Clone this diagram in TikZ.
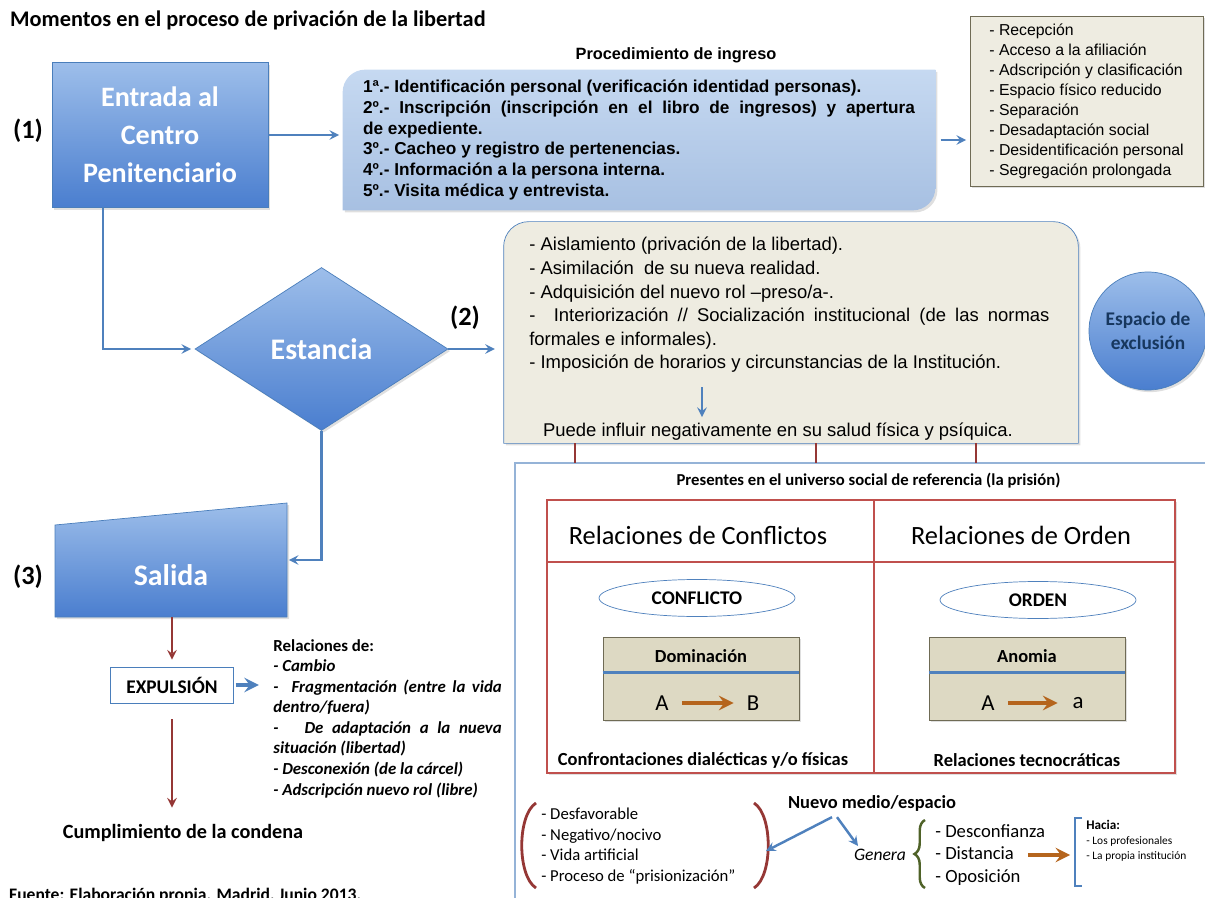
\documentclass[tikz,border=0pt]{standalone}
\usepackage{fontspec}
\setmainfont{Carlito}
\newfontfamily\arialfont{Liberation Sans}
\usetikzlibrary{shapes.geometric,shadows,decorations.pathreplacing}
\tikzset{>=stealth}
\definecolor{azulclaro}{HTML}{9DBEEA}
\definecolor{azuloscuro}{HTML}{4A7ECF}
\definecolor{azulborde}{HTML}{4A7EBB}
\definecolor{azulflecha}{HTML}{4F81BD}
\definecolor{azulmarco}{HTML}{95B3D7}
\definecolor{celeste}{HTML}{C6D9F1}
\definecolor{celeste2}{HTML}{A7C0E2}
\definecolor{beige}{HTML}{EEECE1}
\definecolor{beigeosc}{HTML}{DDD9C3}
\definecolor{oliva}{HTML}{6F6B55}
\definecolor{rojooscuro}{HTML}{953735}
\definecolor{rojotabla}{HTML}{C0504D}
\definecolor{marron}{HTML}{B5651D}
\definecolor{verde}{HTML}{4F6228}
\definecolor{azulnoche}{HTML}{17375E}
\newcommand{\tam}[2]{\fontsize{#1}{#2}\selectfont}

\begin{document}
\begin{tikzpicture}[
    sombra/.style={drop shadow={opacity=0.25, shadow xshift=1.2pt, shadow yshift=-1.2pt}},
    forma/.style={top color=azulclaro, bottom color=azuloscuro, draw=azulborde, sombra},
    etiqueta/.style={font=\tam{15}{18}\bfseries},
    flecha/.style={->, draw=azulflecha, line width=1.4pt},
    flecharoja/.style={->, draw=rojooscuro, line width=1.4pt},
    flechamarron/.style={->, draw=marron, line width=2.6pt},
    tabla/.style={draw=rojotabla, line width=1pt},
    elipse/.style={ellipse, draw=azulflecha, fill=white, minimum width=3.92cm, minimum height=0.74cm, inner sep=0, font=\tam{11}{13}\bfseries},
    cajita/.style={draw=oliva, fill=beigeosc, minimum width=3.92cm, minimum height=1.66cm, inner sep=0, sombra},
    lineaazul/.style={draw=azulflecha, line width=1.8pt},
    tic/.style={draw=rojooscuro, line width=1.4pt}
]
    \useasboundingbox (0,0) rectangle (24.1,-17.96);
    \node[anchor=west, font=\tam{12.7}{15}\bfseries] (titulo) at (0.08,-0.4) {Momentos en el proceso de privación de la libertad};

    \node[forma, minimum width=4.32cm, minimum height=2.9cm, align=center, text=white, font=\tam{16}{21.5}\bfseries] (entrada) at (3.2,-2.7) {Entrada al\\Centro\\Penitenciario};
    \node[etiqueta] (uno) at (0.56,-2.62) {(1)};

    \node[font=\arialfont\tam{9.3}{11}\bfseries] (titingreso) at (13.52,-1.1) {Procedimiento de ingreso};
    \node[minimum width=11.84cm, minimum height=2.8cm, inner sep=0] (ingreso) at (12.78,-2.8) {};
    \path[top color=celeste, bottom color=celeste2, sombra] (ingreso.south west) -- ([yshift=-0.45cm]ingreso.north west) arc[start angle=180, end angle=90, radius=0.45cm] -- (ingreso.north east) -- ([yshift=0.45cm]ingreso.south east) arc[start angle=0, end angle=-90, radius=0.45cm] -- cycle;
    \node[text width=314pt, align=justify, font=\arialfont\tam{9.8}{11.9}\bfseries] (ingresotxt) at (ingreso.center) {1ª.- Identificación personal (verificación identidad personas).\\
        2º.- Inscripción (inscripción en el libro de ingresos) y apertura\linebreak de expediente.\\
        3º.- Cacheo y registro de pertenencias.\\
        4º.- Información a la persona interna.\\
        5º.- Visita médica y entrevista.};

    \node[draw=oliva, fill=beige, sombra, minimum width=4.66cm, minimum height=3.4cm, align=left, font=\arialfont\tam{9}{11.4}] (lista) at (21.73,-2.02) {- Recepción\\- Acceso a la afiliación\\- Adscripción y clasificación\\- Espacio físico reducido\\- Separación\\- Desadaptación social\\- Desidentificación personal\\- Segregación prolongada};

    \draw[flecha, shorten >=2pt] (entrada.east) -- (entrada.east -| ingreso.west);
    \draw[flecha, shorten <=3pt, shorten >=2pt] (ingreso.east) -- (ingreso.east -| lista.west);

    \node[forma, diamond, minimum width=5.06cm, minimum height=3.26cm, inner sep=0, text=white, font=\tam{17}{20}\bfseries] (estancia) at (6.43,-6.98) {Estancia};
    \draw[flecha, shorten >=2pt] ([xshift=-1.14cm]entrada.south) |- (estancia.west);

    \node[minimum width=11.48cm, minimum height=4.42cm, inner sep=0] (aisla) at (15.82,-6.65) {};
    \path[draw=azulflecha, fill=beige, sombra] (aisla.south west) -- ([yshift=-0.5cm]aisla.north west) arc[start angle=180, end angle=90, radius=0.5cm] -- ([xshift=-0.5cm]aisla.north east) arc[start angle=90, end angle=0, radius=0.5cm] -- (aisla.south east) -- cycle;
    \node[anchor=north west, inner sep=0, text width=296pt, align=justify, font=\arialfont\tam{10.5}{13.4}] (aislatxt) at (10.58,-4.74) {- Aislamiento (privación de la libertad).\\
        - Asimilación \ de su nueva realidad.\\
        - Adquisición del nuevo rol –preso/a-.\\
        - \ Interiorización // Socialización institucional (de las normas\linebreak formales e informales).\\
        - Imposición de horarios y circunstancias de la Institución.};
    \node[font=\arialfont\tam{10.5}{12}] (influir) at (15.56,-8.64) {Puede influir negativamente en su salud física y psíquica.};
    \coordinate (inicioflecha) at (14.04,-7.74);
    \draw[flecha] (inicioflecha) -- (inicioflecha |- influir.north);

    \draw[flecha, shorten >=5pt] (estancia.east) -- (estancia.east -| aisla.west);
    \node[etiqueta] (dos) at (9.3,-6.36) {(2)};

    \node[circle, forma, minimum size=2.36cm, inner sep=0, align=center, text=azulnoche, font=\tam{11}{13.5}\bfseries] (exclusion) at (22.96,-6.62) {Espacio de\\exclusión};

    \path[forma] (1.1,-10.5) -- (5.74,-10.06) -- (5.74,-12.34) -- (1.1,-12.34) -- cycle;
    \node[text=white, font=\tam{17}{20}\bfseries] (salida) at (3.42,-11.5) {Salida};
    \node[etiqueta] (tres) at (0.56,-11.54) {(3)};
    \coordinate (salidae) at (5.74,-11.2);
    \coordinate (salidas) at (3.44,-12.34);
    \draw[flecha, shorten >=1pt] (estancia.south) |- (salidae);

    \node[draw=azulborde, fill=white, minimum width=2.46cm, minimum height=0.72cm, inner sep=0, font=\tam{11}{13}\bfseries] (expulsion) at (3.44,-13.7) {EXPULSIÓN};
    \node[font=\tam{11.5}{14}\bfseries] (cumple) at (3.66,-16.66) {Cumplimiento de la condena};
    \node[anchor=north west, inner sep=0, text width=130pt, align=justify, font=\tam{9.6}{11.7}\bfseries] (relaciones) at (5.46,-12.78) {Relaciones de:\\
        \itshape - Cambio\\
        - \ Fragmentación (entre la vida\linebreak dentro/fuera)\\
        - \ \ De adaptación a la nueva\linebreak situación (libertad)\\
        - Desconexión (de la cárcel)\\
        - Adscripción nuevo rol (libre)};
    \draw[flecharoja, shorten >=4pt] (salidas) -- (expulsion.north);
    \draw[flecharoja, shorten <=9pt, shorten >=6pt] (expulsion.south) -- (expulsion.south |- cumple.north);
    \draw[flecha, line width=2.6pt, shorten <=1pt, shorten >=8pt] (expulsion.east) -- (expulsion.east -| relaciones.west);

    \coordinate (marco) at (10.3,-9.26);
    \draw[draw=azulmarco, line width=0.8pt] (10.3,-18.5) -- (marco) -- (24.6,-9.26);
    \foreach \x in {11.5,16.32,19.52}
        \draw[tic] (\x,0 |- aisla.south) -- (\x,0 |- marco);

    \node[font=\tam{9.5}{11}\bfseries] (presentes) at (17.37,-9.62) {Presentes en el universo social de referencia (la prisión)};
    \draw[tabla, fill=white, sombra] (10.94,-10.0) rectangle (23.5,-15.46);
    \draw[tabla, line width=1.4pt] (10.94,-11.24) -- (23.5,-11.24);
    \draw[tabla] (17.48,-10.0) -- (17.48,-15.46);
    \node[font=\tam{15}{18}] (conflictos) at (13.96,-10.7) {Relaciones de Conflictos};
    \node[font=\tam{15}{18}] (orden) at (20.42,-10.7) {Relaciones de Orden};

    \node[elipse] (conflicto) at (13.94,-11.96) {CONFLICTO};
    \node[elipse] (ordenel) at (20.76,-12.0) {ORDEN};

    \node[cajita] (dombox) at (14.02,-13.57) {};
    \node[font=\tam{10.5}{12}\bfseries] (dom) at ([yshift=-0.38cm]dombox.north) {Dominación};
    \draw[lineaazul] ([yshift=-0.72cm]dombox.north west) -- ([yshift=-0.72cm]dombox.north east);
    \node[font=\tam{13}{15}] (domA) at (13.24,-14.06) {A};
    \node[font=\tam{13}{15}] (domB) at (15.06,-14.06) {B};
    \draw[flechamarron, shorten <=4pt, shorten >=4pt] (domA) -- (domB);

    \node[cajita] (anobox) at (20.54,-13.57) {};
    \node[font=\tam{10.5}{12}\bfseries] (ano) at ([yshift=-0.38cm]anobox.north) {Anomia};
    \draw[lineaazul] ([yshift=-0.72cm]anobox.north west) -- ([yshift=-0.72cm]anobox.north east);
    \node[font=\tam{13}{15}] (anoA) at (19.76,-14.06) {A};
    \node[font=\tam{13}{15}] (anoa) at (21.56,-14.06) {a};
    \draw[flechamarron, shorten <=4pt, shorten >=5pt] (anoA) -- (anoa);

    \node[font=\tam{10.5}{12}\bfseries] (confront) at (14.06,-15.2) {Confrontaciones dialécticas y/o físicas};
    \node[font=\tam{10.5}{12}\bfseries] (tecno) at (20.54,-15.2) {Relaciones tecnocráticas};

    \node[font=\tam{10.5}{12}\bfseries] (nuevo) at (17.44,-16.06) {Nuevo medio/espacio};
    \node[anchor=west, align=left, inner sep=0, font=\tam{9.5}{11.7}] (desv) at (10.82,-16.92) {- Desfavorable\\- Negativo/nocivo\\- Vida artificial\\- Proceso de “prisionización”};
    \draw[draw=rojooscuro, line width=1.6pt] (10.72,-16.06) .. controls (10.34,-16.3) and (10.34,-17.52) .. (10.72,-17.76);
    \draw[draw=rojooscuro, line width=1.6pt] (15.08,-16.06) .. controls (15.46,-16.3) and (15.46,-17.52) .. (15.08,-17.76);
    \node[font=\tam{10}{12}\itshape] (genera) at (17.6,-17.1) {Genera};
    \draw[draw=verde, line width=1.4pt, decorate, decoration={brace, amplitude=6pt}] (18.5,-17.76) -- (18.5,-16.4);
    \node[anchor=west, align=left, inner sep=0, font=\tam{10.6}{13}] (genlista) at (18.7,-17.1) {- Desconfianza\\- Distancia\\- Oposición};
    \draw[draw=azulflecha, line width=1.4pt] (21.64,-16.36) -- (21.5,-16.36) -- (21.5,-17.72) -- (21.64,-17.72);
    \node[anchor=north west, align=left, inner sep=0, font=\tam{6.5}{8.5}] (hacia) at (21.72,-16.4) {{\bfseries\tam{7.5}{9}Hacia:}\\- Los profesionales\\- La propia institución};
    \coordinate (puntaizq) at (15.32,-17.02);
    \coordinate (puntader) at (17.16,-16.92);
    \draw[flecha] ([xshift=-0.8cm]nuevo.south) -- (puntaizq);
    \draw[flecha] ([xshift=-0.7cm]nuevo.south) -- (puntader);
    \draw[flechamarron, shorten <=-10pt, shorten >=9pt] (genlista.east) -- (genlista.east -| hacia.west);

    \node[anchor=base west, font=\tam{10}{12}\bfseries] (fuente) at (0.06,-18.0) {Fuente: Elaboración propia. Madrid, Junio 2013.};
\end{tikzpicture}
\end{document}
